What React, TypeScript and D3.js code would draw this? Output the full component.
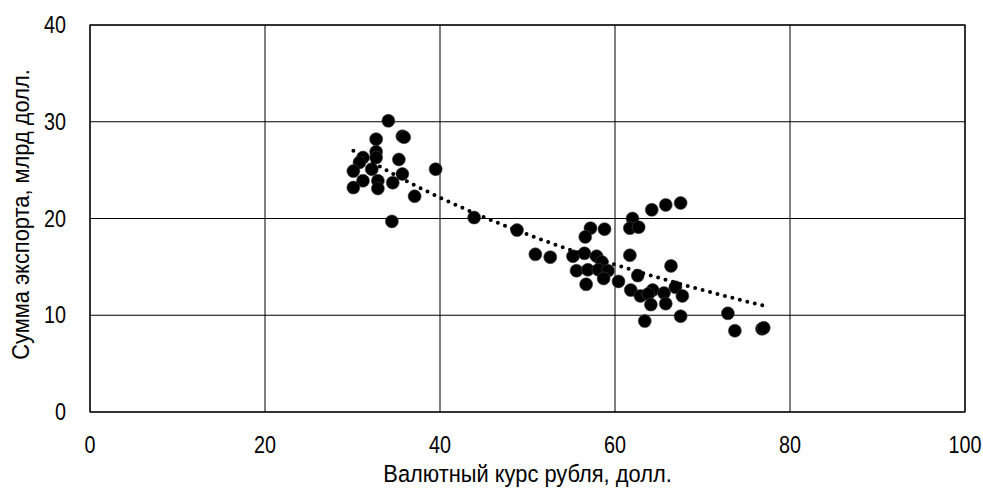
import React, { useEffect, useRef } from 'react';
import * as d3 from 'd3';

// курс рубля (x) и сумма экспорта (y)
const rate = [
  34.1, 35.7, 35.9, 32.7, 32.7, 32.7, 35.3, 31.2, 30.8, 32.2,
  30.1, 35.7, 31.2, 32.9, 34.6, 30.1, 32.9, 37.1, 39.5, 34.5,
  43.9, 48.8, 50.9, 52.6, 67.5, 65.8, 64.2, 62.0, 57.2, 58.8,
  61.7, 62.7, 56.6, 61.7, 55.2, 56.5, 57.9, 58.5, 66.4, 55.6,
  56.9, 58.1, 59.2, 58.7, 60.4, 56.7, 62.6, 61.8, 62.9, 64.3,
  63.8, 65.6, 66.9, 67.7, 64.1, 65.8, 63.4, 67.5, 72.9, 73.7,
  76.8, 77.0,
];
const exportSum = [
  30.1, 28.5, 28.4, 28.2, 26.9, 26.3, 26.1, 26.3, 25.8, 25.1,
  24.9, 24.6, 23.9, 23.9, 23.7, 23.2, 23.1, 22.3, 25.1, 19.7,
  20.1, 18.8, 16.3, 16.0, 21.6, 21.4, 20.9, 20.0, 19.0, 18.9,
  19.0, 19.1, 18.1, 16.2, 16.1, 16.4, 16.1, 15.5, 15.1, 14.6,
  14.7, 14.7, 14.6, 13.8, 13.5, 13.2, 14.1, 12.6, 12.0, 12.6,
  12.2, 12.3, 12.9, 12.0, 11.1, 11.2, 9.4, 9.9, 10.2, 8.4,
  8.6, 8.7,
];
const xTicks = [0, 20, 40, 60, 80, 100];
const yTicks = [0, 10, 20, 30, 40];
const xTitle = 'Валютный курс рубля, долл.';
const yTitle = 'Сумма экспорта, млрд долл.';

const font = '"Liberation Sans", Arial, sans-serif';
// узкий шрифт, как Arial Narrow в оригинале
const squeeze = 0.86;

const App = () => {
  const svgRef = useRef<SVGSVGElement>(null);

  useEffect(() => {
    const width = 983;
    const height = 488;
    const margin = { top: 25, right: 18, bottom: 76, left: 90 };
    const w = width - margin.left - margin.right;
    const h = height - margin.top - margin.bottom;

    const svg = d3.select(svgRef.current);
    svg.selectAll('*').remove();

    const x = d3.scaleLinear().domain([0, 100]).range([0, w]);
    const y = d3.scaleLinear().domain([0, 40]).range([h, 0]);

    const g = svg.append('g').attr('transform', `translate(${margin.left},${margin.top})`);

    // сетка
    g.selectAll('.vgrid')
      .data(xTicks)
      .enter()
      .append('line')
      .attr('x1', d => x(d)).attr('x2', d => x(d))
      .attr('y1', 0).attr('y2', h)
      .attr('stroke', '#000').attr('stroke-width', 1);
    g.selectAll('.hgrid')
      .data(yTicks)
      .enter()
      .append('line')
      .attr('x1', 0).attr('x2', w)
      .attr('y1', d => y(d)).attr('y2', d => y(d))
      .attr('stroke', '#000').attr('stroke-width', 1);
    g.append('rect')
      .attr('width', w).attr('height', h)
      .attr('fill', 'none').attr('stroke', '#000').attr('stroke-width', 1.2);

    // подписи делений
    g.selectAll('.xt')
      .data(xTicks)
      .enter()
      .append('text')
      .attr('transform', d => `translate(${x(d)},${h + 41}) scale(${squeeze},1)`)
      .attr('text-anchor', 'middle')
      .attr('font-size', 23)
      .attr('font-family', font)
      .text(d => d);
    g.selectAll('.yt')
      .data(yTicks)
      .enter()
      .append('text')
      .attr('transform', d => `translate(-24,${y(d) + 8}) scale(${squeeze},1)`)
      .attr('text-anchor', 'end')
      .attr('font-size', 23)
      .attr('font-family', font)
      .text(d => d);

    // названия осей
    svg.append('text')
      .attr('transform', `translate(${margin.left + x(50)},482) scale(0.93,1)`)
      .attr('text-anchor', 'middle')
      .attr('font-size', 23.5)
      .attr('font-family', font)
      .text(xTitle);
    svg.append('text')
      .attr('transform', `translate(29,${margin.top + y(20) - 4}) rotate(-90) scale(0.93,1)`)
      .attr('text-anchor', 'middle')
      .attr('font-size', 23.5)
      .attr('font-family', font)
      .text(yTitle);

    // точки
    const data = rate.map((r, i) => ({ r, v: exportSum[i] }));
    g.selectAll('circle')
      .data(data)
      .enter()
      .append('circle')
      .attr('cx', d => x(d.r))
      .attr('cy', d => y(d.v))
      .attr('r', 6.5)
      .attr('fill', '#000')
      .attr('stroke', '#444')
      .attr('stroke-width', 0.6);

    // логарифмический тренд, МНК по данным
    const lx = data.map(d => Math.log(d.r));
    const mx = d3.mean(lx) as number;
    const my = d3.mean(data, d => d.v) as number;
    const b = d3.sum(data, (d, i) => (lx[i] - mx) * (d.v - my)) / d3.sum(lx, l => (l - mx) ** 2);
    const a = my - b * mx;
    const [x0, x1] = d3.extent(rate) as [number, number];
    const trend = d3.range(0, 61).map(i => {
      const xv = x0 + ((x1 - x0) * i) / 60;
      return [xv, a + b * Math.log(xv)] as [number, number];
    });
    g.append('path')
      .datum(trend)
      .attr('d', d3.line().x(d => x(d[0])).y(d => y(d[1])))
      .attr('fill', 'none')
      .attr('stroke', '#000')
      .attr('stroke-width', 4)
      .attr('stroke-linecap', 'round')
      .attr('stroke-dasharray', '0 7.7');
  }, []);

  return (
    <svg
      ref={svgRef}
      width={983}
      height={488}
      style={{ position: 'absolute', left: 0, top: 0, background: '#fff' }}
    ></svg>
  );
};

export default App;
